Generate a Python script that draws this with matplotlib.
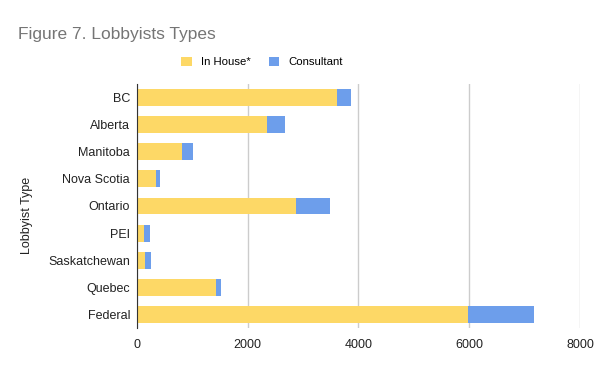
import matplotlib.pyplot as plt
import numpy as np

plt.rcParams['font.family'] = ['Liberation Sans', 'DejaVu Sans']

# data
provinces = ['BC', 'Alberta', 'Manitoba', 'Nova Scotia', 'Ontario', 'PEI',
             'Saskatchewan', 'Quebec', 'Federal']
in_house = [3620, 2355, 805, 335, 2877, 121, 146, 1418, 5977]
consultant = [250, 318, 200, 72, 613, 108, 101, 90, 1201]
x_ticks = [0, 2000, 4000, 6000, 8000]

fig = plt.figure(figsize=(6, 3.71), dpi=100)
ax = fig.add_axes([137 / 600, 1 - 328 / 371, (580 - 137) / 600, (328 - 84) / 371])

y = np.arange(len(provinces))
ax.barh(y, in_house, height=0.62, color='#FDD866', label='In House*', zorder=3)
ax.barh(y, consultant, left=in_house, height=0.62, color='#6D9EEB',
        label='Consultant', zorder=3)

ax.set_ylim(len(provinces) - 0.5, -0.5)
ax.set_yticks(y)
ax.set_yticklabels(provinces, fontsize=9, color='#222222')
ax.set_xlim(0, 8000)
ax.set_xticks(x_ticks)
ax.set_xticklabels([str(t) for t in x_ticks], fontsize=9, color='#222222')
ax.tick_params(axis='y', length=0, pad=5)
ax.tick_params(axis='x', length=0, pad=8)
ax.grid(axis='x', color='#cccccc', linewidth=1, zorder=0)
for s in ['top', 'right', 'bottom']:
    ax.spines[s].set_visible(False)
ax.spines['left'].set_color('#333333')
ax.spines['left'].set_zorder(4)

ax.set_ylabel('Lobbyist Type', fontsize=9, color='#222222')
ax.yaxis.set_label_coords(-(137 - 33) / 443, (328 - 215) / 244)

fig.text(18 / 600, 1 - 35 / 371, 'Figure 7. Lobbyists Types', fontsize=12.5,
         color='#757575', va='center', ha='left')

fig.legend(loc='center', bbox_to_anchor=(262 / 600, 1 - 62 / 371), ncol=2,
           frameon=False, fontsize=8.2, handlelength=0.9, handleheight=0.9,
           columnspacing=1.6, handletextpad=0.8)

fig.savefig('out.png', dpi=100)
